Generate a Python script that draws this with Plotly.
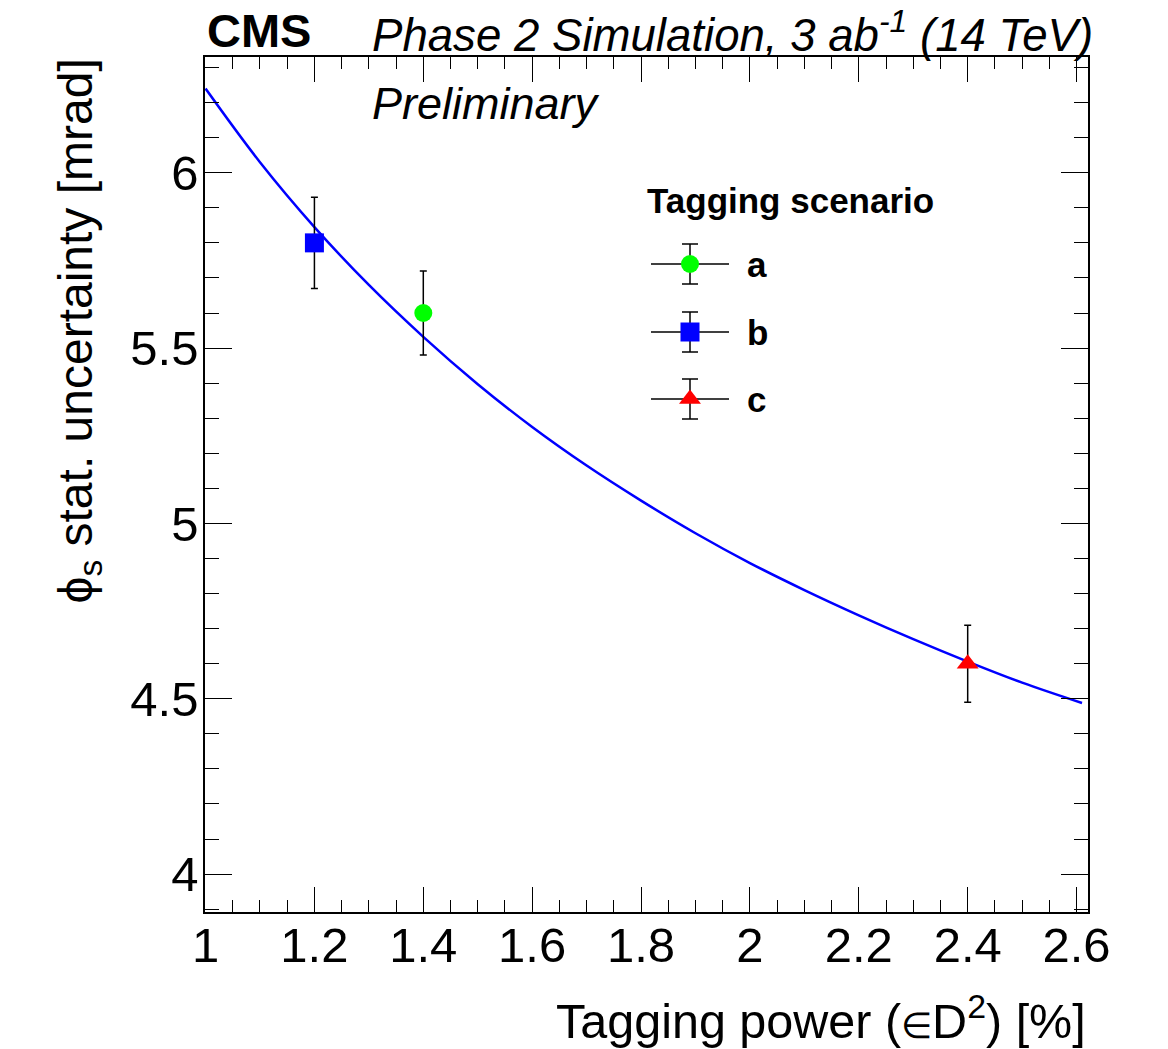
import plotly.graph_objects as go

# Fitted dependence of the phi_s statistical uncertainty on tagging power
curve_power = [1.00, 1.10, 1.20, 1.30, 1.40, 1.50, 1.60, 1.70, 1.80, 1.90,
               2.00, 2.10, 2.20, 2.30, 2.40, 2.50, 2.61]
curve_sigma = [6.240, 6.030, 5.845, 5.680, 5.532, 5.397, 5.275, 5.165, 5.065, 4.972,
               4.887, 4.810, 4.738, 4.670, 4.606, 4.546, 4.488]

# Simulated tagging scenarios
scenario_names = ["a", "b", "c"]
scenario_power = [1.4, 1.2, 2.4]
scenario_sigma = [5.60, 5.80, 4.60]
scenario_error = [0.12, 0.13, 0.11]
scenario_colors = ["#00ff00", "#0000ff", "#ff0000"]
scenario_symbols = ["circle", "square", "triangle-up"]
scenario_sizes = [18, 19, 19]

x_ticks = [1.0, 1.2, 1.4, 1.6, 1.8, 2.0, 2.2, 2.4, 2.6]
y_ticks = [4.0, 4.5, 5.0, 5.5, 6.0]

FONT = "Liberation Sans, Arial, Helvetica, sans-serif"

# plot frame in pixels
W, H = 1168, 1049
L, R, T, B = 205, 1088, 57, 912
PW, PH = R - L, B - T


def px(xp):
    return (xp - L) / PW


def py(yp):
    return (B - yp) / PH


fig = go.Figure()

fig.add_trace(go.Scatter(
    x=curve_power, y=curve_sigma, mode="lines",
    line=dict(color="#0000ff", width=2.5, shape="spline", smoothing=1.0),
    showlegend=False, hoverinfo="skip",
))

for name, xv, yv, ev, col, sym, sz in zip(scenario_names, scenario_power, scenario_sigma,
                                          scenario_error, scenario_colors, scenario_symbols,
                                          scenario_sizes):
    fig.add_trace(go.Scatter(
        x=[xv], y=[yv], mode="markers", name=name,
        marker=dict(color=col, symbol=sym, size=sz, line=dict(width=0)),
        error_y=dict(type="data", array=[ev], color="black", thickness=1.5, width=3.5),
        showlegend=False,
    ))

# hand-made legend key: horizontal line, error bar and marker per scenario
leg_x = px(690)
leg_x0, leg_x1 = px(651), px(729)
leg_rows = [py(264), py(332), py(399)]
bar_half = 20 / PH
cap_half = 8 / PW

shapes = []
for yr in leg_rows:
    shapes.append(dict(type="line", xref="paper", yref="paper", x0=leg_x0, x1=leg_x1,
                       y0=yr, y1=yr, line=dict(color="black", width=1.5), layer="below"))
    shapes.append(dict(type="line", xref="paper", yref="paper", x0=leg_x, x1=leg_x,
                       y0=yr - bar_half, y1=yr + bar_half, line=dict(color="black", width=1.5),
                       layer="below"))
    for s in (-1, 1):
        shapes.append(dict(type="line", xref="paper", yref="paper",
                           x0=leg_x - cap_half, x1=leg_x + cap_half,
                           y0=yr + s * bar_half, y1=yr + s * bar_half,
                           line=dict(color="black", width=1.5), layer="below"))

fig.add_trace(go.Scatter(
    x=[leg_x] * len(leg_rows), y=leg_rows, mode="markers",
    marker=dict(color=scenario_colors, symbol=scenario_symbols, size=scenario_sizes,
                line=dict(width=0), opacity=1),
    xaxis="x2", yaxis="y2", showlegend=False, hoverinfo="skip", cliponaxis=False,
))

annotations = [
    dict(text="<b>CMS</b>", x=px(205), y=py(31), xanchor="left", yanchor="middle",
         font=dict(size=47, family=FONT, color="black")),
    dict(text="<i>Phase 2 Simulation, 3 ab<sup>-1</sup> (14 TeV)</i>", x=px(370), y=py(32),
         xanchor="left", yanchor="middle", font=dict(size=45.6, family=FONT, color="black")),
    dict(text="<i>Preliminary</i>", x=px(370), y=py(103), xanchor="left", yanchor="middle",
         font=dict(size=45, family=FONT, color="black")),
    dict(text="<b>Tagging scenario</b>", x=px(645), y=py(201), xanchor="left",
         yanchor="middle", font=dict(size=35, family=FONT, color="black")),
    dict(text="Tagging power (<span style='font-size:36px'>∈</span>D<sup>2</sup>) [%]",
         x=1.0, y=py(1017), xanchor="right",
         yanchor="middle", font=dict(size=48.5, family=FONT, color="black")),
    dict(text="ϕ<sub>s</sub> stat. uncertainty [mrad]", x=px(78), y=1.0, xanchor="center",
         yanchor="top", textangle=-90, font=dict(size=48, family=FONT, color="black")),
]
for name, yr in zip(scenario_names, leg_rows):
    annotations.append(dict(text=f"<b>{name}</b>", x=px(745), y=yr, xanchor="left",
                            yanchor="middle", font=dict(size=35, family=FONT, color="black")))
for a in annotations:
    a.update(xref="paper", yref="paper", showarrow=False)

axis_common = dict(
    showline=True, linecolor="black", linewidth=1.5, mirror="ticks",
    ticks="inside", tickcolor="black", tickwidth=1.2,
    showgrid=False, zeroline=False,
    tickfont=dict(size=49, family=FONT, color="black"),
)

fig.update_layout(
    width=W, height=H,
    margin=dict(l=L, r=W - R, t=T, b=H - B),
    paper_bgcolor="white", plot_bgcolor="white",
    showlegend=False,
    font=dict(family=FONT, color="black"),
    xaxis=dict(range=[0.999, 2.621], tickvals=x_ticks, ticklen=25,
               minor=dict(ticks="inside", dtick=0.05, tick0=1.0, ticklen=12,
                          tickcolor="black", tickwidth=1.2),
               ticklabelstandoff=-11, **axis_common),
    yaxis=dict(range=[3.892, 6.330], tickvals=y_ticks, ticklen=27,
               minor=dict(ticks="inside", dtick=0.1, tick0=4.0, ticklen=14,
                          tickcolor="black", tickwidth=1.2),
               ticklabelstandoff=-5, **axis_common),
    xaxis2=dict(range=[0, 1], overlaying="x", visible=False, fixedrange=True),
    yaxis2=dict(range=[0, 1], overlaying="y", visible=False, fixedrange=True),
    shapes=shapes,
    annotations=annotations,
)

fig.write_html("out.html")
